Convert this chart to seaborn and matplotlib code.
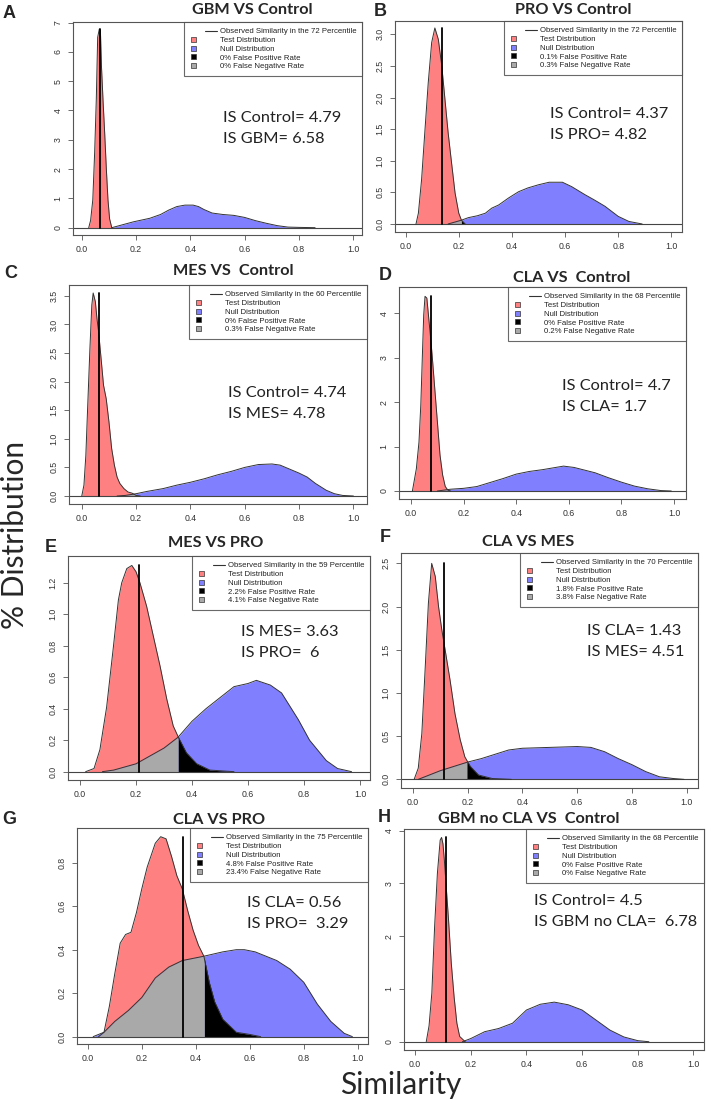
import numpy as np
import matplotlib
matplotlib.use("Agg")
import matplotlib.pyplot as plt
import seaborn as sns
from matplotlib.legend_handler import HandlerBase
from matplotlib.lines import Line2D
from matplotlib.patches import Patch, Rectangle

sns.set_style("white")
plt.rcParams['font.family'] = ['Liberation Sans', 'DejaVu Sans']

# ---------------- data ----------------
panel_letters = ["A", "B", "C", "D", "E", "F", "G", "H"]
titles = ["GBM VS Control", "PRO VS Control", "MES VS  Control", "CLA VS  Control",
          "MES VS PRO", "CLA VS MES", "CLA VS PRO", "GBM no CLA VS  Control"]
percentiles = [72, 72, 60, 68, 59, 70, 75, 68]
false_pos = ["0", "0.1", "0", "0", "2.2", "1.8", "4.8", "0"]
false_neg = ["0", "0.3", "0.3", "0.2", "4.1", "3.8", "23.4", "0"]
is_line1 = ["IS Control= 4.79", "IS Control= 4.37", "IS Control= 4.74", "IS Control= 4.7",
            "IS MES= 3.63", "IS CLA= 1.43", "IS CLA= 0.56", "IS Control= 4.5"]
is_line2 = ["IS GBM= 6.58", "IS PRO= 4.82", "IS MES= 4.78", "IS CLA= 1.7",
            "IS PRO=  6", "IS MES= 4.51", "IS PRO=  3.29", "IS GBM no CLA=  6.78"]
observed = [0.068, 0.138, 0.065, 0.076, 0.212, 0.113, 0.353, 0.111]
cutoffs = [0.10, 0.21, 0.20, 0.14, 0.351, 0.198, 0.432, 0.17]

A_test_x = [0.025, 0.032, 0.04, 0.047, 0.053, 0.058, 0.064, 0.068, 0.072, 0.078, 0.084, 0.09, 0.096, 0.102, 0.11]
A_test_y = [0, 0.25, 0.95, 2.6, 4.4, 6.5, 6.78, 6.75, 5.5, 4.3, 3.2, 2.0, 0.95, 0.3, 0]
A_null_x = [0.11, 0.15, 0.19, 0.25, 0.29, 0.32, 0.35, 0.38, 0.41, 0.43, 0.45, 0.48, 0.52, 0.56, 0.6, 0.64, 0.68, 0.72, 0.76, 0.8, 0.86]
A_null_y = [0, 0.1, 0.2, 0.32, 0.45, 0.6, 0.72, 0.77, 0.77, 0.72, 0.62, 0.5, 0.45, 0.42, 0.35, 0.24, 0.15, 0.07, 0.02, 0.01, 0]

B_test_x = [0.039, 0.048, 0.06, 0.073, 0.085, 0.098, 0.11, 0.123, 0.136, 0.148, 0.16, 0.173, 0.186, 0.2, 0.21, 0.224]
B_test_y = [0, 0.17, 0.7, 1.5, 2.23, 2.87, 3.1, 2.92, 2.5, 1.97, 1.44, 0.96, 0.49, 0.17, 0.06, 0]
B_null_x = [0.16, 0.21, 0.236, 0.27, 0.3, 0.324, 0.35, 0.387, 0.425, 0.46, 0.5, 0.54, 0.59, 0.625, 0.676, 0.71, 0.75, 0.8, 0.84, 0.89]
B_null_y = [0, 0.06, 0.1, 0.13, 0.17, 0.25, 0.3, 0.41, 0.51, 0.57, 0.62, 0.66, 0.66, 0.59, 0.46, 0.38, 0.28, 0.12, 0.04, 0]

C_test_x = [0.0, 0.008, 0.015, 0.022, 0.03, 0.037, 0.042, 0.05, 0.056, 0.062, 0.07, 0.08, 0.09, 0.1, 0.11, 0.12, 0.13, 0.14, 0.155, 0.17, 0.185, 0.2, 0.215]
C_test_y = [0, 0.19, 0.71, 1.59, 2.58, 3.34, 3.55, 3.4, 3.1, 2.87, 2.46, 1.94, 1.7, 1.3, 0.83, 0.54, 0.33, 0.22, 0.13, 0.07, 0.05, 0.01, 0]
C_null_x = [0.13, 0.16, 0.2, 0.24, 0.3, 0.35, 0.4, 0.45, 0.5, 0.55, 0.6, 0.65, 0.7, 0.73, 0.77, 0.8, 0.83, 0.86, 0.9, 0.93, 0.96, 1.0]
C_null_y = [0, 0.01, 0.04, 0.08, 0.13, 0.19, 0.24, 0.3, 0.37, 0.43, 0.5, 0.55, 0.56, 0.54, 0.46, 0.4, 0.33, 0.22, 0.1, 0.04, 0.01, 0]

D_test_x = [0.005, 0.02, 0.03, 0.037, 0.043, 0.048, 0.053, 0.06, 0.066, 0.072, 0.08, 0.09, 0.1, 0.11, 0.12, 0.13, 0.14, 0.15]
D_test_y = [0, 0.5, 1.1, 1.94, 3.06, 3.96, 4.38, 4.34, 3.96, 3.59, 3.06, 2.31, 1.56, 0.81, 0.36, 0.1, 0.02, 0]
D_null_x = [0.1, 0.15, 0.2, 0.25, 0.3, 0.35, 0.4, 0.45, 0.5, 0.55, 0.58, 0.62, 0.66, 0.7, 0.75, 0.8, 0.85, 0.9, 0.95, 0.99]
D_null_y = [0, 0.04, 0.06, 0.1, 0.19, 0.28, 0.38, 0.44, 0.48, 0.53, 0.56, 0.53, 0.47, 0.41, 0.3, 0.2, 0.11, 0.05, 0.01, 0]

E_test_x = [0.02, 0.05, 0.071, 0.095, 0.119, 0.137, 0.149, 0.167, 0.185, 0.2, 0.214, 0.238, 0.262, 0.286, 0.31, 0.333, 0.351, 0.38, 0.417, 0.464, 0.55]
E_test_y = [0, 0.02, 0.14, 0.41, 0.79, 1.09, 1.2, 1.29, 1.31, 1.27, 1.2, 1.05, 0.86, 0.67, 0.46, 0.29, 0.22, 0.12, 0.05, 0.01, 0]
E_null_x = [0.08, 0.12, 0.2, 0.25, 0.3, 0.351, 0.4, 0.45, 0.5, 0.55, 0.6, 0.63, 0.68, 0.72, 0.78, 0.82, 0.88, 0.92, 0.97]
E_null_y = [0, 0.01, 0.05, 0.1, 0.15, 0.22, 0.32, 0.4, 0.47, 0.54, 0.56, 0.58, 0.55, 0.5, 0.33, 0.2, 0.07, 0.02, 0]

F_test_x = [0.005, 0.02, 0.033, 0.045, 0.057, 0.069, 0.082, 0.094, 0.106, 0.118, 0.136, 0.154, 0.173, 0.19, 0.21, 0.24, 0.29, 0.36]
F_test_y = [0, 0.13, 0.53, 1.27, 2.04, 2.5, 2.35, 2.0, 1.73, 1.5, 1.15, 0.76, 0.46, 0.26, 0.15, 0.05, 0.01, 0]
F_null_x = [0.02, 0.1, 0.15, 0.2, 0.25, 0.3, 0.35, 0.4, 0.5, 0.6, 0.65, 0.7, 0.75, 0.8, 0.85, 0.9, 0.95, 0.99]
F_null_y = [0, 0.1, 0.15, 0.2, 0.24, 0.29, 0.34, 0.36, 0.37, 0.38, 0.37, 0.32, 0.24, 0.17, 0.09, 0.03, 0.01, 0]

G_test_x = [0.04, 0.06, 0.08, 0.1, 0.12, 0.14, 0.16, 0.18, 0.2, 0.22, 0.25, 0.27, 0.29, 0.31, 0.33, 0.35, 0.37, 0.39, 0.41, 0.43, 0.45, 0.47, 0.5, 0.55, 0.6, 0.64]
G_test_y = [0, 0.02, 0.14, 0.29, 0.43, 0.47, 0.48, 0.57, 0.68, 0.78, 0.89, 0.92, 0.91, 0.83, 0.74, 0.68, 0.58, 0.49, 0.42, 0.37, 0.25, 0.16, 0.08, 0.02, 0.01, 0]
G_null_x = [0.02, 0.06, 0.1, 0.15, 0.2, 0.25, 0.3, 0.35, 0.43, 0.5, 0.55, 0.58, 0.62, 0.7, 0.75, 0.8, 0.85, 0.9, 0.95, 0.98]
G_null_y = [0, 0.02, 0.07, 0.12, 0.18, 0.27, 0.32, 0.35, 0.37, 0.39, 0.4, 0.4, 0.39, 0.35, 0.31, 0.25, 0.15, 0.07, 0.015, 0]

H_test_x = [0.04, 0.05, 0.06, 0.07, 0.08, 0.09, 0.095, 0.1, 0.105, 0.12, 0.13, 0.14, 0.15, 0.16, 0.18]
H_test_y = [0, 0.3, 0.92, 2.18, 3.19, 3.82, 3.87, 3.75, 3.44, 2.31, 1.48, 0.85, 0.35, 0.1, 0]
H_null_x = [0.17, 0.2, 0.25, 0.3, 0.35, 0.4, 0.45, 0.5, 0.55, 0.6, 0.65, 0.7, 0.75, 0.8, 0.84]
H_null_y = [0, 0.06, 0.19, 0.25, 0.35, 0.6, 0.71, 0.75, 0.7, 0.6, 0.41, 0.22, 0.09, 0.02, 0]

test_curves = [(A_test_x, A_test_y), (B_test_x, B_test_y), (C_test_x, C_test_y), (D_test_x, D_test_y),
               (E_test_x, E_test_y), (F_test_x, F_test_y), (G_test_x, G_test_y), (H_test_x, H_test_y)]
null_curves = [(A_null_x, A_null_y), (B_null_x, B_null_y), (C_null_x, C_null_y), (D_null_x, D_null_y),
               (E_null_x, E_null_y), (F_null_x, F_null_y), (G_null_x, G_null_y), (H_null_x, H_null_y)]

x_ticks = [0.0, 0.2, 0.4, 0.6, 0.8, 1.0]
y_tick_labels = [
    ["0", "1", "2", "3", "4", "5", "6", "7"],
    ["0.0", "0.5", "1.0", "1.5", "2.0", "2.5", "3.0"],
    ["0.0", "0.5", "1.0", "1.5", "2.0", "2.5", "3.0", "3.5"],
    ["0", "1", "2", "3", "4"],
    ["0.0", "0.2", "0.4", "0.6", "0.8", "1.0", "1.2"],
    ["0.0", "0.5", "1.0", "1.5", "2.0", "2.5"],
    ["0.0", "0.2", "0.4", "0.6", "0.8"],
    ["0", "1", "2", "3", "4"],
]

# ---------------- layout (pixels) ----------------
W, H = 711, 1106
boxes = [(73, 22, 362, 235), (395, 21, 682, 232), (69, 285, 367, 504), (399, 287, 686, 499),
         (68, 556, 370, 780), (401, 553, 698, 788), (77, 828, 368, 1044), (404, 829, 704, 1050)]
xlims = [(-0.033, 1.033), (-0.04, 1.04), (-0.047, 1.05), (-0.046, 1.046),
         (-0.043, 1.036), (-0.043, 1.041), (-0.04, 1.038), (-0.04, 1.038)]
ylims = [(-0.25, 7.02), (-0.127, 3.21), (-0.14, 3.69), (-0.18, 4.59),
         (-0.053, 1.37), (-0.1, 2.62), (-0.034, 0.96), (-0.157, 4.03)]
title_pos = [(252, 10), (573, 10), (233, 271), (572, 278), (216, 543), (528, 542), (219, 820), (529, 819)]
letter_pos = [(9, 13), (380, 12), (11, 273), (385, 275), (51, 547), (385, 538), (9, 820), (384, 818)]
is_pos = [(223, 118), (550, 114), (228, 393), (562, 386), (241, 632), (587, 631), (247, 903), (534, 901)]
IS_GAP = 21

RED, BLUE, GRAY, BLACK = "#FF8080", "#8080FF", "#A9A9A9", "#000000"
EDGE = "#333333"
LEG_FAMILY, LEG_SIZE = ["Liberation Sans", "DejaVu Sans"], 5.6

fig = plt.figure(figsize=(W / 100, H / 100), dpi=100)
fig.patch.set_facecolor("white")


class LineHandler(HandlerBase):
    def create_artists(self, legend, orig, xd, yd, w, h, fs, trans):
        ln = Line2D([-xd + 0.55 * w, -xd + w], [-yd + h / 2, -yd + h / 2],
                    color=EDGE, lw=0.8, transform=trans)
        return [ln]


class BoxHandler(HandlerBase):
    def create_artists(self, legend, orig, xd, yd, w, h, fs, trans):
        s = 3.6
        r = Rectangle((-xd + 0.06 * w, -yd + (h - s) / 2), s, s,
                      facecolor=orig.get_facecolor(), edgecolor=EDGE, lw=0.5, transform=trans)
        return [r]


for i in range(8):
    l, t, r, b = boxes[i]
    ax = fig.add_axes([l / W, 1 - b / H, (r - l) / W, (b - t) / H])
    tx, ty = np.array(test_curves[i][0]), np.array(test_curves[i][1])
    nx, ny = np.array(null_curves[i][0]), np.array(null_curves[i][1])

    ax.fill_between(tx, 0, ty, color=RED, lw=0)
    ax.fill_between(nx, 0, ny, color=BLUE, lw=0)

    # overlap of the two densities, split at the cutoff
    cut = cutoffs[i]
    lo, hi = max(tx.min(), nx.min()), min(tx.max(), nx.max())
    if lo < cut:
        g = np.linspace(lo, min(cut, hi), 300)
        ov = np.minimum(np.interp(g, tx, ty), np.interp(g, nx, ny))
        ax.fill_between(g, 0, ov, color=GRAY, lw=0)
    if hi > cut:
        g = np.linspace(max(cut, lo), hi, 300)
        ov = np.minimum(np.interp(g, tx, ty), np.interp(g, nx, ny))
        ax.fill_between(g, 0, ov, color=BLACK, lw=0)

    sns.lineplot(x=nx, y=ny, ax=ax, color=EDGE, lw=0.7, estimator=None)
    sns.lineplot(x=tx, y=ty, ax=ax, color=EDGE, lw=0.7, estimator=None)
    ax.axhline(0, color="#444444", lw=0.8, zorder=1)

    ax.plot([observed[i], observed[i]], [0, ty.max()], color="black", lw=1.3, zorder=5)

    ax.set_xlim(*xlims[i])
    ax.set_ylim(*ylims[i])
    ax.set_xticks(x_ticks)
    ax.set_xticklabels([f"{v:.1f}" for v in x_ticks])
    yv = [float(s) for s in y_tick_labels[i]]
    ax.set_yticks(yv)
    ax.set_yticklabels(y_tick_labels[i], rotation=90, va="center")
    ax.tick_params(axis="both", which="both", direction="out", length=3.5, width=0.6,
                   color="#555555", labelsize=6.3, labelcolor="#333333", pad=4,
                   bottom=True, left=True)
    ax.set_xlabel("")
    ax.set_ylabel("")
    for sp in ax.spines.values():
        sp.set_color("#555555")
        sp.set_linewidth(0.8)

    handles = [Line2D([], [], color=EDGE), Patch(facecolor=RED), Patch(facecolor=BLUE),
               Patch(facecolor=BLACK), Patch(facecolor=GRAY)]
    labels = [f"Observed Similarity in the {percentiles[i]} Percentile", "Test Distribution",
              "Null Distribution", f"{false_pos[i]}% False Positive Rate",
              f"{false_neg[i]}% False Negative Rate"]
    leg = ax.legend(handles, labels, loc="upper right", bbox_to_anchor=(1, 1),
                    borderaxespad=0, prop={"family": LEG_FAMILY, "size": LEG_SIZE},
                    frameon=True, fancybox=False,
                    handlelength=3.5, handletextpad=0.35, borderpad=0.75, labelspacing=0.17,
                    handler_map={Line2D: LineHandler(), Patch: BoxHandler()})
    leg.get_frame().set_edgecolor("#444444")
    leg.get_frame().set_linewidth(0.8)
    for txt in leg.get_texts():
        txt.set_color("#222222")

    fig.text(title_pos[i][0] / W, 1 - title_pos[i][1] / H, titles[i], ha="center", va="center",
             fontsize=11.7, fontweight="bold", family=["Lato", "DejaVu Sans"])
    fig.text(letter_pos[i][0] / W, 1 - letter_pos[i][1] / H, panel_letters[i], ha="center",
             va="center", fontsize=13, fontweight="bold", family=["Liberation Sans", "DejaVu Sans"])
    fig.text(is_pos[i][0] / W, 1 - is_pos[i][1] / H, is_line1[i], ha="left", va="center",
             fontsize=11.8, color="#222222", family=["Lato", "DejaVu Sans"])
    fig.text(is_pos[i][0] / W, 1 - (is_pos[i][1] + IS_GAP) / H, is_line2[i], ha="left", va="center",
             fontsize=11.8, color="#222222", family=["Lato", "DejaVu Sans"])

fig.text(15 / W, 1 - 535 / H, "% Distribution", rotation=90, ha="center", va="center",
         fontsize=21.5, family=["Lato", "DejaVu Sans"])
fig.text(401 / W, 1 - 1085 / H, "Similarity", ha="center", va="center",
         fontsize=21.5, family=["Lato", "DejaVu Sans"])

fig.savefig("out.png", dpi=100, facecolor="white")
